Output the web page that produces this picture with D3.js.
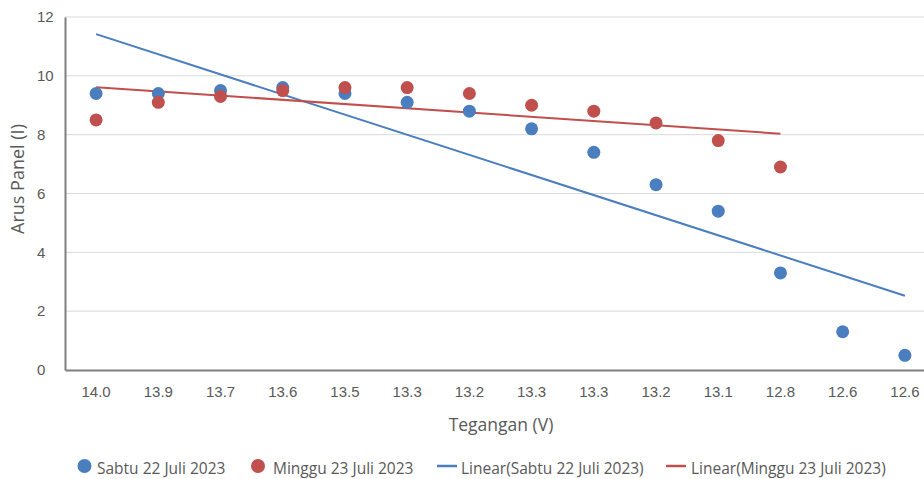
<!DOCTYPE html>
<html>
<head>
<meta charset="utf-8">
<script src="https://cdn.jsdelivr.net/npm/d3@7"></script>
<style>
  html, body { margin: 0; padding: 0; background: #fff; }
  svg { display: block; font-family: "Open Sans", "Noto Sans", sans-serif; }
</style>
</head>
<body>
<svg id="chart" width="924" height="479"></svg>
<script>
// Voltage readings used as category labels along the x axis
const categories = ["14.0", "13.9", "13.7", "13.6", "13.5", "13.3", "13.2", "13.3", "13.3", "13.2", "13.1", "12.8", "12.6", "12.6"];
// Panel current, Saturday 22 July 2023
const sabtu = [9.4, 9.4, 9.5, 9.6, 9.4, 9.1, 8.8, 8.2, 7.4, 6.3, 5.4, 3.3, 1.3, 0.5];
// Panel current, Sunday 23 July 2023
const minggu = [8.5, 9.1, 9.3, 9.5, 9.6, 9.6, 9.4, 9.0, 8.8, 8.4, 7.8, 6.9];
const yTicks = [0, 2, 4, 6, 8, 10, 12];

const blue = "#4A7EBF";
const red = "#C0504D";
const textColor = "#595959";

const svg = d3.select("#chart");
const plotLeft = 65, plotTop = 17, plotBottom = 370, plotRight = 936;

const x = d3.scaleBand()
  .domain(d3.range(categories.length))
  .range([plotLeft, plotRight]);
const cx = i => x(i) + x.bandwidth() / 2;

const y = d3.scaleLinear().domain([0, 12]).range([plotBottom, plotTop]);

// Horizontal gridlines
svg.append("g")
  .selectAll("line")
  .data(yTicks.filter(d => d > 0))
  .join("line")
  .attr("x1", plotLeft).attr("x2", 924)
  .attr("y1", d => y(d)).attr("y2", d => y(d))
  .attr("stroke", "#d9d9d9").attr("stroke-width", 1);

// Y axis
const yAxis = svg.append("g")
  .attr("transform", `translate(${plotLeft},0)`)
  .call(d3.axisLeft(y).tickValues(yTicks).tickSize(0).tickPadding(0));
yAxis.select(".domain").attr("stroke", "#7f7f7f").attr("stroke-width", 2);
yAxis.selectAll("text")
  .attr("x", -28).attr("text-anchor", "start")
  .attr("fill", textColor).style("font-size", "15px");

// X axis
const xAxis = svg.append("g")
  .attr("transform", `translate(0,${plotBottom})`)
  .call(d3.axisBottom(x).tickFormat(i => categories[i]).tickSize(0).tickPadding(0));
xAxis.select(".domain").attr("stroke", "#7f7f7f").attr("stroke-width", 2);
xAxis.selectAll("text")
  .attr("y", 16)
  .attr("fill", textColor).style("font-size", "15px");

// Least-squares line on the category index (1-based), as a spreadsheet trendline
function linearFit(vals) {
  const n = vals.length;
  const xs = vals.map((_, i) => i + 1);
  const mx = d3.mean(xs), my = d3.mean(vals);
  let sxy = 0, sxx = 0;
  xs.forEach((xv, i) => { sxy += (xv - mx) * (vals[i] - my); sxx += (xv - mx) ** 2; });
  const b = sxy / sxx, a = my - b * mx;
  return [{ i: 0, v: a + b * 1 }, { i: n - 1, v: a + b * n }];
}

const line = d3.line().x(d => cx(d.i)).y(d => y(d.v));

svg.append("path")
  .datum(linearFit(sabtu))
  .attr("d", line)
  .attr("fill", "none").attr("stroke", blue).attr("stroke-width", 2);

svg.append("path")
  .datum(linearFit(minggu))
  .attr("d", line)
  .attr("fill", "none").attr("stroke", red).attr("stroke-width", 2);

// Scatter markers
svg.append("g")
  .selectAll("circle")
  .data(sabtu)
  .join("circle")
  .attr("cx", (d, i) => cx(i)).attr("cy", d => y(d))
  .attr("r", 6.5).attr("fill", blue);

svg.append("g")
  .selectAll("circle")
  .data(minggu)
  .join("circle")
  .attr("cx", (d, i) => cx(i)).attr("cy", d => y(d))
  .attr("r", 6.5).attr("fill", red);

// Axis titles
svg.append("text")
  .attr("transform", "translate(24,179) rotate(-90)")
  .attr("text-anchor", "middle")
  .attr("fill", textColor).style("font-size", "18px")
  .text("Arus Panel (I)");

svg.append("text")
  .attr("x", 501).attr("y", 431)
  .attr("text-anchor", "middle")
  .attr("fill", textColor).style("font-size", "17.5px")
  .text("Tegangan (V)");

// Legend
const legend = svg.append("g").style("font-size", "15.5px").attr("fill", textColor);
const ly = 466;
const items = [
  { type: "dot", color: blue, label: "Sabtu 22 Juli 2023", mx: 84.5, tx: 97 },
  { type: "dot", color: red, label: "Minggu 23 Juli 2023", mx: 258, tx: 273 },
  { type: "line", color: blue, label: "Linear(Sabtu 22 Juli 2023)", mx: 437, tx: 461 },
  { type: "line", color: red, label: "Linear(Minggu 23 Juli 2023)", mx: 666, tx: 691 }
];
items.forEach(it => {
  if (it.type === "dot") {
    legend.append("circle").attr("cx", it.mx).attr("cy", ly).attr("r", 7).attr("fill", it.color);
  } else {
    legend.append("line").attr("x1", it.mx).attr("x2", it.mx + 20)
      .attr("y1", ly).attr("y2", ly).attr("stroke", it.color).attr("stroke-width", 2.5);
  }
  legend.append("text").attr("x", it.tx).attr("y", ly + 8).text(it.label);
});
</script>
</body>
</html>
